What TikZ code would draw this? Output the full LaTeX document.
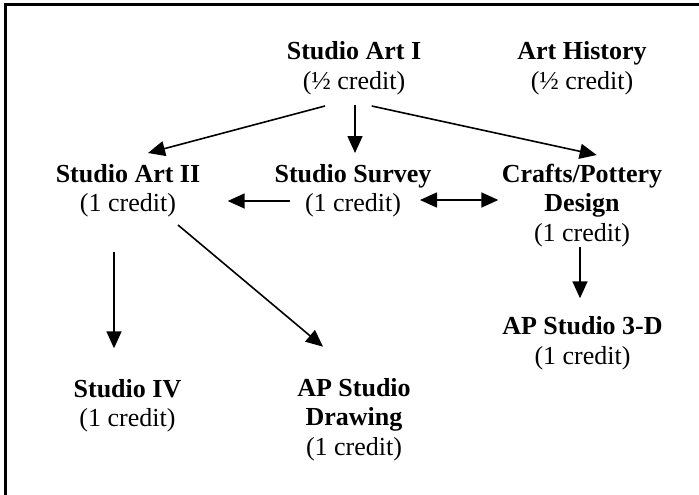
\documentclass[tikz,border=0pt]{standalone}
\usepackage{fontspec}
\setmainfont{Liberation Serif}
\usetikzlibrary{arrows.meta}
\tikzset{
  course/.style={align=center, anchor=base, inner sep=0pt, font=\fontsize{26}{29.5}\selectfont},
  tip/.tip={Triangle[length=17pt,width=15pt]},
  arr/.style={line width=1.6pt, -tip},
  darr/.style={line width=1.6pt, tip-tip},
  frame/.style={line width=2.6pt}
}
\begin{document}
\begin{tikzpicture}[x=1pt,y=-1pt]
\useasboundingbox (0,0) rectangle (699,495);
\draw[frame] (5.5,496) -- (5.5,4.5) -- (700,4.5);

% base anchor = baseline of the last line
\node[course] (sa1) at (354,89) {\textbf{Studio Art I}\\(½ credit)};
\node[course] (ah) at (582,89) {\textbf{Art History}\\(½ credit)};
\node[course] (sa2) at (128,211.5) {\textbf{Studio Art II}\\(1 credit)};
\node[course] (ss) at (353,211.5) {\textbf{Studio Survey}\\(1 credit)};
\node[course] (cp) at (582,241) {\textbf{Crafts/Pottery}\\\textbf{Design}\\(1 credit)};
\node[course] (ap3) at (582.5,364) {\textbf{AP Studio 3-D}\\(1 credit)};
\node[course] (apd) at (354,455) {\textbf{AP Studio}\\\textbf{Drawing}\\(1 credit)};
\node[course] (s4) at (127.5,426.5) {\textbf{Studio IV}\\(1 credit)};

\draw[arr] ([shift={(-29,17)}]sa1.base) -- ([shift={(20,-58.5)}]sa2.base);
\draw[arr] ([shift={(1,16)}]sa1.base) -- ([shift={(2,-58.5)}]ss.base);
\draw[arr] ([shift={(17.7,17)}]sa1.base) -- ([shift={(14.7,-86)}]cp.base);
\draw[arr] ([shift={(-63,-10.5)}]ss.base) -- ([shift={(99.7,-10.5)}]sa2.base);
\draw[darr] ([shift={(67,-11.5)}]ss.base) -- ([shift={(-83.7,-41)}]cp.base);
\draw[arr] ([shift={(-14,40.2)}]sa2.base) -- ([shift={(-13.5,-78.2)}]s4.base);
\draw[arr] ([shift={(50,13.5)}]sa2.base) -- ([shift={(-31,-108.3)}]apd.base);
\draw[arr] ([shift={(-2,6)}]cp.base) -- ([shift={(-2.5,-65.7)}]ap3.base);
\end{tikzpicture}
\end{document}
